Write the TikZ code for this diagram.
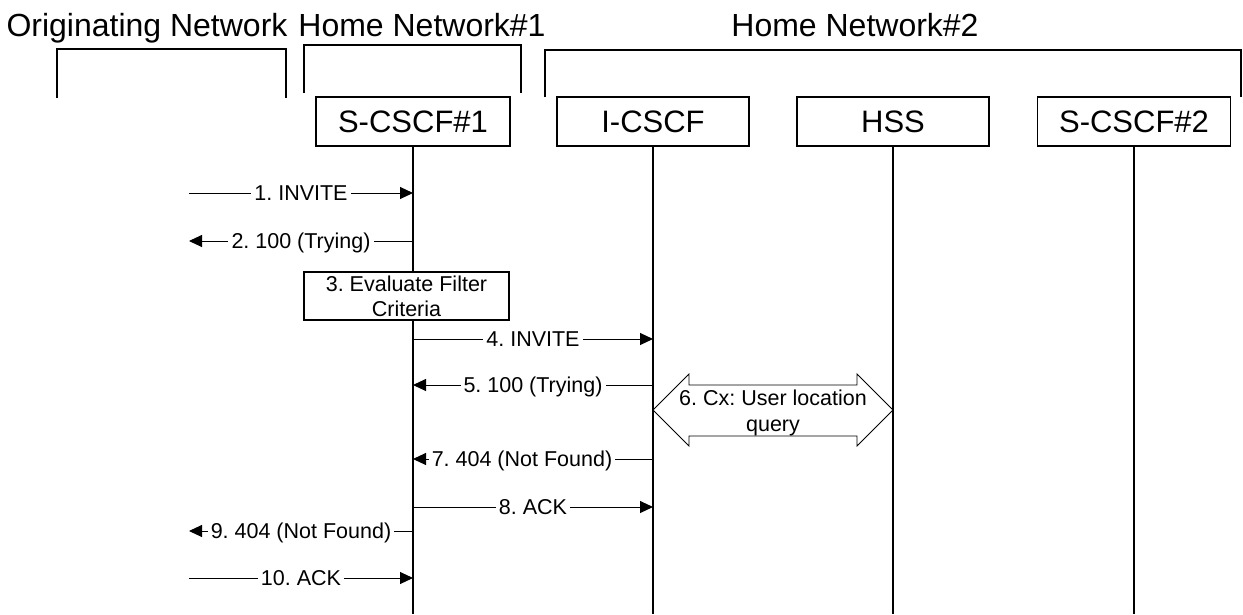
\documentclass[tikz,border=0pt]{standalone}
\usepackage{fontspec}
\setmainfont{Liberation Sans}
\usetikzlibrary{arrows.meta}
\frenchspacing
\begin{document}
\begin{tikzpicture}[x=1pt,y=-1pt,
  ent/.style={draw,line width=1.6pt,minimum width=194pt,minimum height=49pt,inner sep=0pt,font=\fontsize{31}{37}\selectfont},
  life/.style={line width=2pt},
  grp/.style={line width=1.6pt},
  msg/.style={line width=1pt,-{Triangle[length=13pt,width=12pt]}},
  lbl/.style={fill=white,inner xsep=3pt,inner ysep=1pt,font=\fontsize{21.5}{25}\selectfont,text height=15.4pt,text depth=0pt},
  ttl/.style={anchor=base,inner sep=0pt,font=\fontsize{32}{38}\selectfont},
  procbox/.style={draw,line width=1.6pt,fill=white,minimum width=205pt,minimum height=48pt,inner sep=0pt,align=center,font=\fontsize{21.5}{25}\selectfont},
]
\useasboundingbox (0,0) rectangle (1243,614);

% titles
\node[ttl] (tOrig) at (147,36) {Originating Network};
\node[ttl] (tH1) at (422,36) {Home Network\#1};
\node[ttl] (tH2) at (855,36) {Home Network\#2};

% group brackets
\draw[grp] (57,98) -- (57,49) -- (286,49) -- (286,98);
\draw[grp] (304,93) -- (304,45) -- (521,45) -- (521,93);
\draw[grp] (545,97) -- (545,50) -- (1241,50) -- (1241,97);

% entities
\node[ent] (s1) at (413,121.5) {S-CSCF\#1};
\node[ent,minimum width=192pt] (ic) at (653,121.5) {I-CSCF};
\node[ent,minimum width=192pt] (hss) at (893,121.5) {HSS};
\node[ent,minimum width=193pt] (s2) at (1134,121.5) {S-CSCF\#2};

% lifelines
\coordinate (s1end) at (s1.south |- 0,614);
\coordinate (icend) at (ic.south |- 0,614);
\coordinate (hssend) at (hss.south |- 0,614);
\coordinate (s2end) at (s2.south |- 0,614);
\draw[life] (s1.south) -- (s1end);
\draw[life] (ic.south) -- (icend);
\draw[life] (hss.south) -- (hssend);
\draw[life] (s2.south) -- (s2end);

% free ends on the left
\coordinate (o1) at (189,193);
\coordinate (o2) at (189,241);
\coordinate (o9) at (189,531);
\coordinate (o10) at (189,578);
\coordinate (m4) at (0,339);
\coordinate (m5) at (0,385);
\coordinate (m7) at (0,459);
\coordinate (m8) at (0,507);

% messages
\draw[msg] (o1) -- (o1 -| s1.south) node[lbl,midway] (l1) {1. INVITE};
\draw[msg] (o2 -| s1.south) -- (o2) node[lbl,midway] (l2) {2. 100 (Trying)};

\node[procbox] (f3) at (406.5,296) {3. Evaluate Filter\\Criteria};

\draw[msg] (m4 -| s1.south) -- (m4 -| ic.south) node[lbl,midway] (l4) {4. INVITE};
\draw[msg] (m5 -| ic.south) -- (m5 -| s1.south) node[lbl,midway] (l5) {5. 100 (Trying)};

% 6. Cx double arrow
\draw[line width=0.8pt,fill=white] (653,410) -- (689,374) -- (689,385) -- (857,385) -- (857,374)
  -- (893,410) -- (857,446) -- (857,436) -- (689,436) -- (689,446) -- cycle;
\node[align=center,inner sep=0pt,font=\fontsize{21.5}{26}\selectfont] (cx) at (773,413) {6. Cx: User location\\query};

\draw[msg] (m7 -| ic.south) -- (m7 -| s1.south) node[lbl,midway,xshift=-11pt] (l7) {7. 404 (Not Found)};
\draw[msg] (m8 -| s1.south) -- (m8 -| ic.south) node[lbl,midway] (l8) {8. ACK};
\draw[msg] (o9 -| s1.south) -- (o9) node[lbl,midway] (l9) {9. 404 (Not Found)};
\draw[msg] (o10) -- (o10 -| s1.south) node[lbl,midway] (l10) {10. ACK};
\end{tikzpicture}
\end{document}
